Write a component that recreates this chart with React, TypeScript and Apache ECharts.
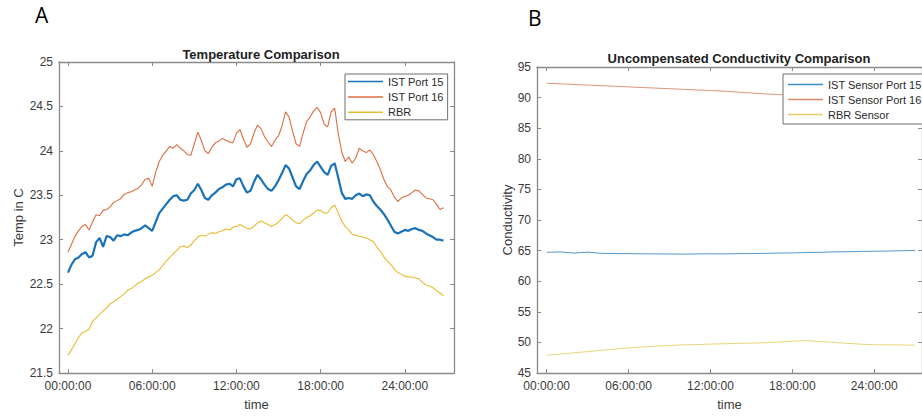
import React, { useEffect, useRef } from "react";
import * as echarts from "echarts";

// ---- Panel A: Temperature (hours since start) ----
const hoursA = [
  0, 0.25, 0.5, 0.75, 1, 1.25, 1.5, 1.75, 2, 2.25, 2.5, 2.75, 3, 3.25, 3.5, 3.75,
  4, 4.25, 4.5, 4.75, 5, 5.25, 5.5, 5.75, 6, 6.25, 6.5, 6.75, 7, 7.25, 7.5, 7.75,
  8, 8.25, 8.5, 8.75, 9, 9.25, 9.5, 9.75, 10, 10.25, 10.5, 10.75, 11, 11.25, 11.5, 11.75,
  12, 12.25, 12.5, 12.75, 13, 13.25, 13.5, 13.75, 14, 14.25, 14.5, 14.75, 15, 15.25, 15.5, 15.75,
  16, 16.25, 16.5, 16.75, 17, 17.25, 17.5, 17.75, 18, 18.25, 18.5, 18.75, 19, 19.25, 19.5, 19.75,
  20, 20.25, 20.5, 20.75, 21, 21.25, 21.5, 21.75, 22, 22.25, 22.5, 22.75, 23, 23.25, 23.5, 23.75,
  24, 24.25, 24.5, 24.75, 25, 25.25, 25.5, 25.75, 26, 26.25, 26.5, 26.75,
];

const istPort15 = [
  22.63, 22.72, 22.78, 22.8, 22.84, 22.86, 22.8, 22.82, 22.97, 23.02, 22.92, 23.04, 23.03, 22.99, 23.05, 23.04,
  23.06, 23.05, 23.08, 23.1, 23.11, 23.13, 23.16, 23.13, 23.1, 23.2, 23.3, 23.35, 23.4, 23.45, 23.49, 23.5,
  23.45, 23.44, 23.45, 23.52, 23.56, 23.63, 23.56, 23.47, 23.45, 23.5, 23.53, 23.57, 23.59, 23.62, 23.63, 23.6,
  23.68, 23.69, 23.6, 23.53, 23.55, 23.65, 23.73, 23.68, 23.62, 23.57, 23.55, 23.6, 23.67, 23.75, 23.84, 23.8,
  23.7, 23.6, 23.57, 23.66, 23.74, 23.78, 23.84, 23.88, 23.82, 23.76, 23.73, 23.83, 23.86, 23.7, 23.53, 23.46,
  23.47, 23.46, 23.5, 23.52, 23.49, 23.51, 23.5, 23.43, 23.38, 23.34, 23.29, 23.23, 23.16, 23.09, 23.07, 23.09,
  23.11, 23.1, 23.12, 23.13, 23.11, 23.1, 23.07, 23.05, 23.03, 23.0, 23.0, 22.99,
];

const istPort16 = [
  22.86, 22.95, 23.04, 23.1, 23.15, 23.17, 23.11, 23.2, 23.28, 23.27, 23.33, 23.34, 23.37, 23.42, 23.44, 23.46,
  23.51, 23.53, 23.54, 23.56, 23.58, 23.62, 23.68, 23.69, 23.6, 23.76, 23.88, 23.95, 24.0, 24.05, 24.03, 24.07,
  24.03, 24.0, 23.96, 23.95, 24.08, 24.21, 24.12, 24.0, 23.97, 24.04, 24.09, 24.11, 24.14, 24.12, 24.1, 24.09,
  24.2, 24.24, 24.13, 24.04, 24.08, 24.2, 24.29, 24.25, 24.16, 24.1, 24.05, 24.12, 24.17, 24.28, 24.44, 24.38,
  24.22, 24.08, 24.05, 24.2, 24.33, 24.38, 24.45, 24.49, 24.43, 24.3, 24.27, 24.44, 24.48, 24.2, 23.99, 23.88,
  23.93, 23.86, 23.92, 24.03, 24.0, 23.98, 24.01, 23.96, 23.88, 23.79, 23.68, 23.6, 23.56, 23.48, 23.43, 23.47,
  23.49, 23.5, 23.53, 23.56, 23.55, 23.51, 23.47, 23.46, 23.45, 23.4, 23.34, 23.36,
];

const rbr = [
  21.7, 21.76, 21.83, 21.9, 21.95, 21.97, 21.99, 22.08, 22.12, 22.16, 22.2, 22.23, 22.28, 22.3, 22.33, 22.36,
  22.39, 22.43, 22.45, 22.48, 22.51, 22.53, 22.56, 22.58, 22.6, 22.63, 22.66, 22.71, 22.76, 22.8, 22.84, 22.88,
  22.92, 22.93, 22.91, 22.94, 22.99, 23.03, 23.05, 23.04, 23.06, 23.08, 23.07, 23.09, 23.1, 23.12, 23.11, 23.14,
  23.15, 23.17, 23.15, 23.13, 23.12, 23.15, 23.19, 23.21, 23.19, 23.17, 23.15, 23.17, 23.2, 23.24, 23.28, 23.26,
  23.22, 23.19, 23.18, 23.22, 23.25, 23.27, 23.3, 23.33, 23.33, 23.3, 23.3, 23.36, 23.39, 23.3, 23.21, 23.15,
  23.11, 23.06, 23.05, 23.04, 23.03, 23.02, 23.0, 22.98, 22.92, 22.87, 22.81, 22.76, 22.72, 22.67, 22.63, 22.61,
  22.59, 22.58, 22.58, 22.57, 22.56, 22.52, 22.49, 22.48, 22.46, 22.43, 22.4, 22.37,
];

// ---- Panel B: Uncompensated conductivity ----
const hoursB = [
  0, 1, 2, 3, 4, 5, 6, 7, 8, 9, 10, 11, 12, 13, 14, 15, 16, 17, 18, 19, 20, 21, 22, 23, 24, 25, 26, 27,
];
const istSensor15 = [
  64.72, 64.78, 64.6, 64.75, 64.55, 64.52, 64.5, 64.48, 64.45, 64.45, 64.42, 64.45, 64.48, 64.46,
  64.5, 64.52, 64.55, 64.6, 64.62, 64.68, 64.72, 64.78, 64.82, 64.86, 64.9, 64.93, 64.98, 65.02,
];
const istSensor16 = [
  92.35, 92.25, 92.15, 92.05, 91.95, 91.85, 91.75, 91.65, 91.55, 91.45, 91.35, 91.25, 91.15, 91.05,
  90.9, 90.75, 90.6, 90.5, 90.45, 90.4, 90.35, 90.3, 90.25, 90.2, 90.15, 90.1, 90.05, 90.0,
];
const rbrSensor = [
  47.9, 48.1, 48.3, 48.5, 48.7, 48.9, 49.1, 49.25, 49.4, 49.5, 49.6, 49.65, 49.72, 49.78,
  49.83, 49.88, 49.95, 50.05, 50.2, 50.28, 50.15, 50.0, 49.85, 49.72, 49.62, 49.6, 49.58, 49.55,
];

const timeTicks = [0, 6, 12, 18, 24];

const BLUE = "#1a73b8";
const ORANGE = "#dc6f42";
const YELLOW = "#e8bb2e";
const AXIS = "#8a8a8a";
const LABEL = "#3a3a3a";
const FONT = "'Liberation Sans', Arial, sans-serif";

const fmtTime = (v: number) => String(v).padStart(2, "0") + ":00:00";

function xAxes(gridIndex: number, min: number, max: number, name: string) {
  const base = {
    type: "value",
    gridIndex,
    min,
    max,
    splitLine: { show: false },
    axisLine: { show: true, onZero: false, lineStyle: { color: AXIS, width: 1.3 } },
    axisTick: { show: true, inside: true, length: 4, customValues: timeTicks, lineStyle: { color: AXIS } },
  };
  return [
    {
      ...base,
      position: "bottom",
      name,
      nameLocation: "middle",
      nameGap: 25,
      nameTextStyle: { fontSize: 13, color: LABEL, fontFamily: FONT },
      axisLabel: {
        show: true,
        customValues: timeTicks,
        formatter: fmtTime,
        fontSize: 12,
        color: LABEL,
        fontFamily: FONT,
        margin: 7,
      },
    },
    { ...base, position: "top", axisLabel: { show: false } },
  ];
}

function yAxes(gridIndex: number, min: number, max: number, interval: number, name: string, gap: number) {
  const base = {
    type: "value",
    gridIndex,
    min,
    max,
    interval,
    splitLine: { show: false },
    axisLine: { show: true, onZero: false, lineStyle: { color: AXIS, width: 1.3 } },
    axisTick: { show: true, inside: true, length: 4, lineStyle: { color: AXIS } },
  };
  return [
    {
      ...base,
      position: "left",
      name,
      nameLocation: "middle",
      nameGap: gap,
      nameTextStyle: { fontSize: 13, color: LABEL, fontFamily: FONT },
      axisLabel: { show: true, fontSize: 12, color: LABEL, fontFamily: FONT, margin: 6 },
    },
    { ...base, position: "right", axisLabel: { show: false } },
  ];
}

function lineSeries(name: string, xs: number[], ys: number[], color: string, width: number, xi: number, yi: number) {
  return {
    name,
    type: "line",
    xAxisIndex: xi,
    yAxisIndex: yi,
    symbol: "none",
    showSymbol: false,
    data: xs.map((t, i) => [t, ys[i]]),
    lineStyle: { color, width },
    itemStyle: { color },
    z: 2,
  };
}

const legendBase = {
  orient: "vertical",
  backgroundColor: "#ffffff",
  borderColor: "#6e6e6e",
  borderWidth: 1,
  icon: "rect",
  itemWidth: 35,
  itemHeight: 1.5,
  borderRadius: 0,
  textStyle: { fontSize: 11, lineHeight: 13, color: "#2a2a2a", fontFamily: FONT },
  z: 10,
};

export default function App() {
  const ref = useRef<HTMLDivElement>(null);

  useEffect(() => {
    if (!ref.current) return;
    const chart = echarts.init(ref.current, undefined, { renderer: "svg" });
    chart.setOption({
      animation: false,
      backgroundColor: "#ffffff",
      title: [
        {
          text: "Temperature Comparison",
          left: 256,
          top: 43,
          textAlign: "center",
          textStyle: { fontSize: 13, fontWeight: "bold", color: "#222", fontFamily: FONT },
        },
        {
          text: "Uncompensated Conductivity Comparison",
          left: 734,
          top: 47,
          textAlign: "center",
          textStyle: { fontSize: 13, fontWeight: "bold", color: "#222", fontFamily: FONT },
        },
      ],
      grid: [
        { left: 59, top: 62, width: 395, height: 313 },
        { left: 537, top: 67, width: 395, height: 310 },
      ],
      xAxis: [...xAxes(0, -0.64, 27.5, "time"), ...xAxes(1, -0.71, 27.5, "time")],
      yAxis: [
        ...yAxes(0, 21.5, 25, 0.5, "Temp in C", 34),
        ...yAxes(1, 45, 95, 5, "Conductivity", 22),
      ],
      legend: [
        {
          ...legendBase,
          left: 345,
          top: 74,
          padding: [1, 4, 1, 3],
          itemGap: 2.4,
          data: ["IST Port 15", "IST Port 16", "RBR"],
        },
        {
          ...legendBase,
          left: 783,
          top: 74,
          padding: [4, 6, 3, 5],
          itemGap: 2,
          data: ["IST Sensor Port 15", "IST Sensor Port 16", "RBR Sensor"],
        },
      ],
      graphic: [
        {
          type: "text",
          left: 35,
          top: 4,
          style: { text: "A", fontSize: 21, fill: "#000", fontFamily: "'Open Sans', sans-serif" },
        },
        {
          type: "text",
          left: 528,
          top: 7,
          style: { text: "B", fontSize: 21, fill: "#000", fontFamily: "'Open Sans', sans-serif" },
        },
      ],
      series: [
        lineSeries("IST Port 15", hoursA, istPort15, BLUE, 2.2, 0, 0),
        lineSeries("IST Port 16", hoursA, istPort16, ORANGE, 1.1, 0, 0),
        lineSeries("RBR", hoursA, rbr, YELLOW, 1.1, 0, 0),
        lineSeries("IST Sensor Port 15", hoursB, istSensor15, "#3f8fc9", 0.9, 2, 2),
        lineSeries("IST Sensor Port 16", hoursB, istSensor16, "#d98a6a", 0.9, 2, 2),
        lineSeries("RBR Sensor", hoursB, rbrSensor, "#e6cf6a", 0.9, 2, 2),
      ],
    });
    return () => chart.dispose();
  }, []);

  return (
    <div
      ref={ref}
      style={{ position: "fixed", left: 0, top: 0, width: 922, height: 416, background: "#fff" }}
    />
  );
}
